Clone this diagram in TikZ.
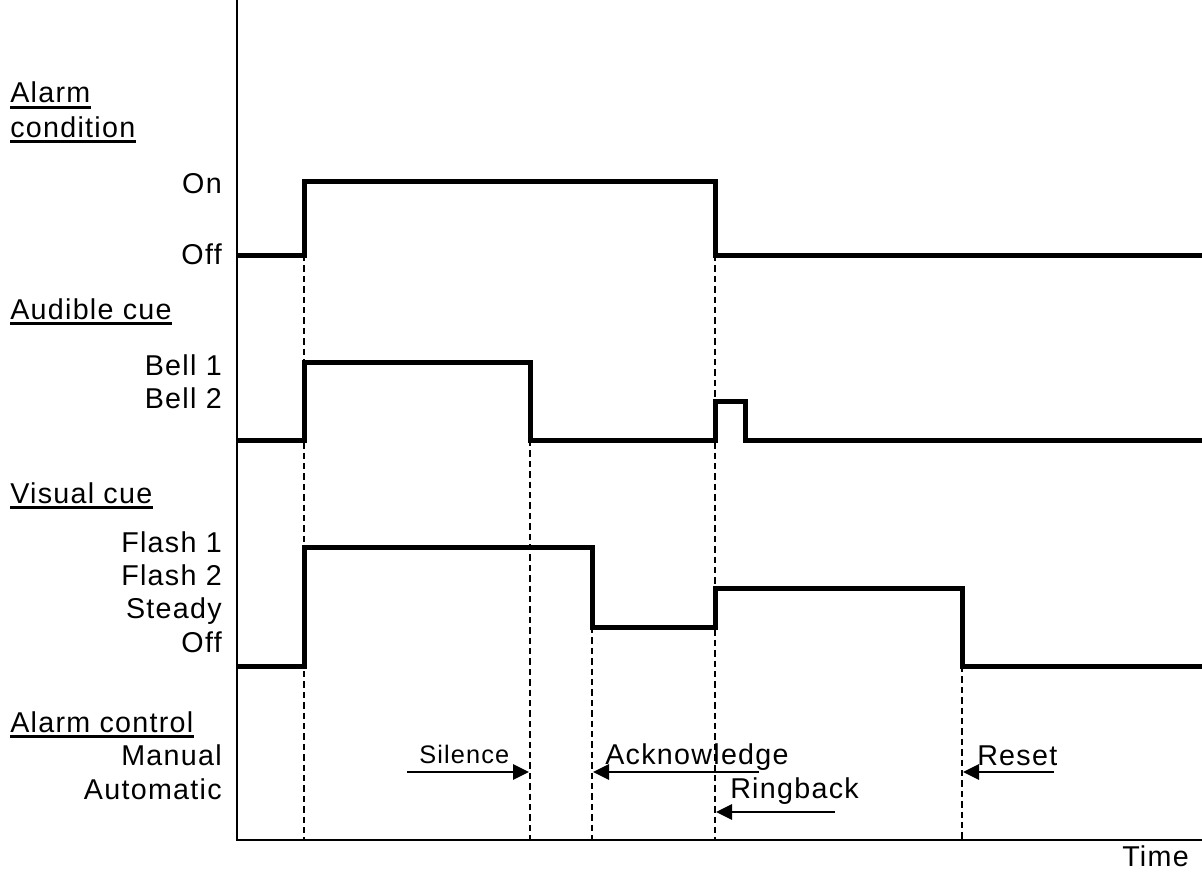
\documentclass[tikz,border=0pt]{standalone}
\usepackage{fontspec}
\setmainfont{Liberation Sans}[LetterSpace=4.5]
\usetikzlibrary{arrows.meta}

\begin{document}
\begin{tikzpicture}[x=0.75pt,y=-0.75pt,
  trace/.style={line width=3.75pt, line join=miter},
  guide/.style={line width=2pt, dash pattern=on 4.8pt off 3pt},
  axis/.style={line width=1.1pt},
  cue/.style={-{Triangle[length=12pt,width=11.5pt]}, line width=1.5pt},
  lbl/.style={inner sep=0pt, font=\fontsize{21.5}{24}\selectfont},
  small/.style={inner sep=0pt, font=\fontsize{19}{22}\selectfont},
  head/.style={lbl, anchor=base west},
  level/.style={lbl, anchor=base east},
  uline/.style={line width=1.8pt},
]
\useasboundingbox (0,0) rectangle (1202,874);

% axes
\coordinate (top) at (237,0);
\coordinate (origin) at (237,840);
\coordinate (right) at (1202,840);
\draw[axis] (top) -- (origin) -- (right);
\node[lbl, anchor=base west] (time) at (1122,866) {Time};

% event guides
\coordinate (g1a) at (304,255); \coordinate (g1b) at (304,840);
\coordinate (g2a) at (530,440); \coordinate (g2b) at (530,840);
\coordinate (g3a) at (592,627); \coordinate (g3b) at (592,840);
\coordinate (g4a) at (715,255); \coordinate (g4b) at (715,840);
\coordinate (g5a) at (962,666); \coordinate (g5b) at (962,840);
\foreach \g in {1,...,5} \draw[guide] (g\g a) -- (g\g b);

% alarm condition
\draw[trace] (237,255) -- (304,255) -- (304,181) -- (715,181) -- (715,255) -- (1202,255);
% audible cue
\draw[trace] (237,440) -- (304,440) -- (304,362) -- (530,362) -- (530,440)
  -- (715,440) -- (715,401) -- (745,401) -- (745,440) -- (1202,440);
% visual cue
\draw[trace] (237,666) -- (304,666) -- (304,547) -- (592,547) -- (592,627)
  -- (715,627) -- (715,588) -- (962,588) -- (962,666) -- (1202,666);

% section headings
\node[head] (alarm) at (10,103) {Alarm};
\node[head] (cond) at (10,137) {condition};
\node[head] (aud) at (10,319) {Audible cue};
\node[head] (vis) at (10,503) {Visual cue};
\node[head] (ctl) at (10,732) {Alarm control};
\foreach \n in {alarm,cond,aud,vis,ctl}
  \draw[uline] ([yshift=-3.4pt]\n.base west) -- ([yshift=-3.4pt]\n.base east);

% level names
\node[level] (on) at (222,193) {On};
\node[level] (off) at (222,264) {Off};
\node[level] (bella) at (222,375) {Bell 1};
\node[level] (bellb) at (222,408) {Bell 2};
\node[level] (fla) at (222,552) {Flash 1};
\node[level] (flb) at (222,585) {Flash 2};
\node[level] (steady) at (222,618) {Steady};
\node[level] (voff) at (222,652) {Off};
\node[level] (manual) at (222,765) {Manual};
\node[level] (auto) at (222,799) {Automatic};

% operator actions
\node[small, anchor=base west] (silence) at (419,763) {Silence};
\node[lbl, anchor=base west] (ack) at (605,764) {Acknowledge};
\node[lbl, anchor=base west] (ring) at (730,798) {Ringback};
\node[lbl, anchor=base west] (reset) at (977,765) {Reset};
\coordinate (sil0) at (407,772); \coordinate (sil1) at (529,772);
\coordinate (ack0) at (759,772); \coordinate (ack1) at (593,772);
\coordinate (ring0) at (835,812); \coordinate (ring1) at (716,812);
\coordinate (res0) at (1054,772); \coordinate (res1) at (963,772);
\draw[cue] (sil0) -- (sil1);
\draw[cue] (ack0) -- (ack1);
\draw[cue] (ring0) -- (ring1);
\draw[cue] (res0) -- (res1);
\end{tikzpicture}
\end{document}
